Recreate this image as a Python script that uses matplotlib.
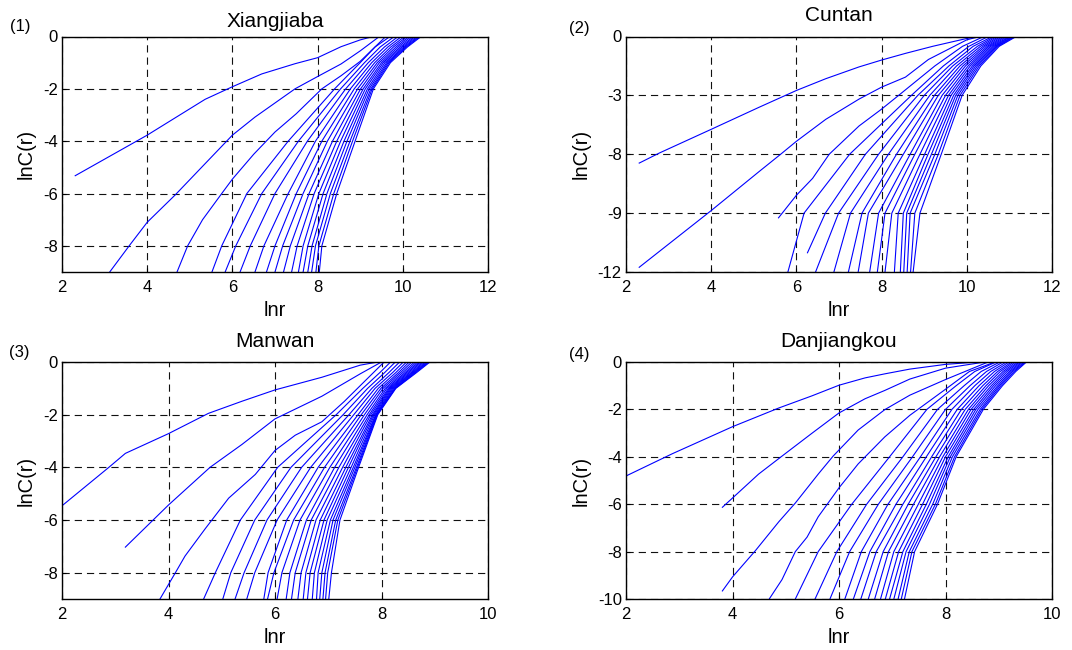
import matplotlib
matplotlib.use("Agg")
import matplotlib.pyplot as plt

plt.rcParams['font.family'] = ['Liberation Sans', 'DejaVu Sans']

BLUE = '#0000ff'
LW = 0.8

# ---------------- Xiangjiaba ----------------
xj_m1_x = [2.31, 4.00, 5.36, 6.00, 6.69, 7.47, 8.00, 8.55, 9.00, 9.30]
xj_m1_y = [-5.32, -3.77, -2.40, -1.92, -1.43, -1.04, -0.81, -0.39, -0.13, 0.0]
xj_m2_x = [3.12, 3.60, 4.00, 4.66, 5.13, 6.00, 6.53, 7.47, 8.00, 8.55, 9.00, 9.45]
xj_m2_y = [-9.0, -7.95, -7.10, -6.05, -5.25, -3.77, -3.08, -2.00, -1.53, -1.05, -0.55, 0.0]
xj_m3_x = [4.70, 4.95, 5.30, 5.75, 6.00, 6.50, 7.00, 7.50, 8.10, 8.55, 9.00, 9.60]
xj_m3_y = [-9.0, -8.00, -7.00, -6.00, -5.45, -4.50, -3.65, -2.95, -2.00, -1.50, -0.95, 0.0]
xj_levels = [-9, -8, -6, -4, -2, -1, -0.4, 0]
xj_cross = [
    [5.52, 5.83, 6.18, 6.53, 6.80, 7.00, 7.20, 7.39, 7.55, 7.66, 7.77, 7.86, 7.96, 8.04],
    [5.75, 6.08, 6.42, 6.74, 7.00, 7.18, 7.36, 7.52, 7.66, 7.77, 7.87, 7.95, 8.03, 8.10],
    [6.34, 6.69, 7.00, 7.31, 7.50, 7.66, 7.80, 7.92, 8.03, 8.13, 8.22, 8.30, 8.38, 8.45],
    [7.31, 7.55, 7.76, 7.95, 8.10, 8.23, 8.35, 8.45, 8.54, 8.62, 8.69, 8.76, 8.82, 8.88],
    [8.40, 8.54, 8.66, 8.77, 8.86, 8.94, 9.01, 9.07, 9.12, 9.17, 9.21, 9.25, 9.28, 9.31],
    [9.00, 9.10, 9.19, 9.27, 9.34, 9.40, 9.45, 9.50, 9.54, 9.58, 9.62, 9.65, 9.68, 9.71],
    [9.35, 9.47, 9.57, 9.65, 9.72, 9.78, 9.84, 9.89, 9.94, 9.98, 10.02, 10.05, 10.08, 10.11],
    [9.70, 9.80, 9.89, 9.97, 10.04, 10.10, 10.15, 10.20, 10.25, 10.29, 10.33, 10.37, 10.40, 10.43],
]
xj_rmax = 10.55

# ---------------- Cuntan ----------------
ct_m1_x = [2.31, 2.78, 4.00, 5.12, 6.00, 6.69, 7.47, 8.00, 8.56, 9.20, 10.00, 10.25]
ct_m1_y = [-6.45, -5.94, -4.73, -3.61, -2.75, -2.15, -1.55, -1.20, -0.86, -0.50, -0.10, 0.0]
ct_m2_x = [2.31, 4.00, 5.12, 5.63, 6.00, 6.69, 7.47, 8.00, 8.56, 9.10, 10.00, 10.30]
ct_m2_y = [-11.76, -8.87, -6.89, -6.00, -5.34, -4.22, -3.19, -2.58, -2.07, -1.17, -0.17, 0.0]
ct_m3_x = [5.58, 6.00, 6.38, 6.77, 7.47, 8.00, 8.40, 9.25, 9.90, 10.40]
ct_m3_y = [-9.24, -8.09, -7.23, -6.00, -4.56, -3.70, -3.00, -1.50, -0.50, 0.0]
ct_m5_x = [6.26, 6.68, 7.62, 8.85, 9.58, 10.15, 10.60]
ct_m5_y = [-11.02, -9.00, -6.00, -3.00, -1.50, -0.50, 0.0]
ct_levels = [-12, -9, -6, -3, -1.5, -0.5, 0]
ct_cross = [
    [5.80, 6.45, 6.88, 7.22, 7.45, 7.72, 7.90, 8.08, 8.30, 8.44, 8.52, 8.60, 8.68, 8.74],
    [6.18, 6.99, 7.27, 7.54, 7.69, 7.93, 8.08, 8.24, 8.39, 8.51, 8.59, 8.67, 8.78, 8.90],
    [7.25, 7.93, 8.16, 8.35, 8.51, 8.67, 8.78, 8.90, 9.01, 9.09, 9.17, 9.25, 9.33, 9.40],
    [8.70, 9.00, 9.13, 9.24, 9.33, 9.42, 9.50, 9.57, 9.63, 9.69, 9.74, 9.79, 9.84, 9.89],
    [9.45, 9.67, 9.76, 9.84, 9.91, 9.97, 10.03, 10.08, 10.13, 10.17, 10.21, 10.25, 10.29, 10.33],
    [10.05, 10.25, 10.32, 10.38, 10.43, 10.48, 10.52, 10.56, 10.60, 10.64, 10.67, 10.70, 10.73, 10.76],
    [10.50, 10.65, 10.70, 10.75, 10.80, 10.85, 10.90, 10.95, 11.00, 11.03, 11.07, 11.10, 11.13, 11.16],
]
ct_rmax = 11.5

# ---------------- Manwan ----------------
mw_m1_x = [2.00, 2.88, 3.19, 4.00, 4.75, 5.38, 6.00, 6.88, 7.60, 7.93]
mw_m1_y = [-5.46, -4.00, -3.47, -2.72, -1.95, -1.49, -1.06, -0.58, -0.12, 0.0]
mw_m2_x = [3.19, 4.00, 4.78, 5.38, 6.00, 6.88, 7.60, 8.00]
mw_m2_y = [-7.03, -5.43, -4.00, -3.13, -2.16, -1.30, -0.45, 0.0]
mw_m3_x = [3.84, 4.13, 4.31, 4.69, 5.13, 5.63, 6.00, 6.38, 6.88, 7.30, 7.75, 8.05]
mw_m3_y = [-9.0, -8.00, -7.37, -6.33, -5.17, -4.27, -3.36, -2.78, -2.27, -1.50, -0.60, 0.0]
mw_levels = [-9, -8, -6, -4, -2, -1, -0.4, 0]
mw_cross = [
    [4.66, 5.02, 5.25, 5.47, 5.79, 5.86, 6.04, 6.21, 6.31, 6.43, 6.53, 6.61, 6.70, 6.78, 6.84, 6.90, 6.95, 7.01],
    [4.88, 5.17, 5.42, 5.62, 5.87, 5.98, 6.13, 6.28, 6.38, 6.49, 6.58, 6.66, 6.74, 6.81, 6.88, 6.94, 6.99, 7.06],
    [5.35, 5.62, 5.85, 6.04, 6.22, 6.35, 6.47, 6.59, 6.68, 6.77, 6.85, 6.92, 6.98, 7.04, 7.09, 7.14, 7.18, 7.22],
    [6.05, 6.30, 6.50, 6.67, 6.81, 6.93, 7.03, 7.12, 7.20, 7.27, 7.33, 7.38, 7.43, 7.47, 7.50, 7.53, 7.55, 7.57],
    [7.15, 7.28, 7.39, 7.48, 7.56, 7.62, 7.68, 7.73, 7.77, 7.80, 7.83, 7.85, 7.87, 7.89, 7.90, 7.91, 7.92, 7.93],
    [7.65, 7.74, 7.82, 7.88, 7.94, 7.99, 8.03, 8.07, 8.10, 8.13, 8.15, 8.17, 8.19, 8.21, 8.23, 8.25, 8.26, 8.27],
    [7.97, 8.06, 8.14, 8.21, 8.27, 8.32, 8.36, 8.40, 8.44, 8.47, 8.50, 8.53, 8.56, 8.58, 8.60, 8.62, 8.64, 8.66],
    [8.17, 8.26, 8.34, 8.41, 8.47, 8.52, 8.57, 8.62, 8.66, 8.70, 8.73, 8.76, 8.79, 8.82, 8.85, 8.87, 8.89, 8.91],
]
mw_rmax = 9.14

# ---------------- Danjiangkou ----------------
dj_m1_x = [2.00, 2.87, 4.00, 4.87, 5.49, 6.00, 6.49, 6.86, 7.33, 8.00, 8.60]
dj_m1_y = [-4.81, -3.87, -2.73, -1.94, -1.43, -0.98, -0.67, -0.50, -0.30, -0.10, 0.0]
dj_m2_x = [3.81, 4.00, 4.49, 4.93, 5.49, 6.00, 6.49, 6.86, 7.33, 8.00, 8.74]
dj_m2_y = [-6.13, -5.74, -4.73, -3.97, -3.01, -2.15, -1.55, -1.20, -0.72, -0.26, 0.0]
dj_m3_x = [3.81, 4.00, 4.43, 4.87, 5.18, 5.61, 5.89, 6.36, 6.86, 7.33, 8.00, 8.80]
dj_m3_y = [-9.66, -9.07, -7.96, -6.74, -5.95, -4.73, -3.97, -2.87, -2.01, -1.40, -0.74, 0.0]
dj_m4_x = [4.69, 4.93, 5.18, 5.40, 5.61, 6.00, 6.36, 6.86, 7.33, 8.00, 8.45, 8.93]
dj_m4_y = [-10.0, -9.18, -8.00, -7.39, -6.53, -5.31, -4.30, -3.16, -2.25, -1.15, -0.40, 0.0]
dj_levels = [-10, -8, -6, -4, -2, -1, -0.4, 0]
dj_cross = [
    [5.18, 5.55, 5.83, 6.11, 6.27, 6.41, 6.55, 6.67, 6.78, 6.87, 6.95, 7.03, 7.11, 7.17, 7.23],
    [5.61, 5.96, 6.20, 6.42, 6.58, 6.70, 6.83, 6.93, 7.03, 7.12, 7.20, 7.26, 7.32, 7.37, 7.42],
    [6.24, 6.52, 6.74, 6.92, 7.07, 7.20, 7.30, 7.40, 7.49, 7.57, 7.64, 7.70, 7.76, 7.81, 7.85],
    [6.95, 7.20, 7.38, 7.53, 7.64, 7.74, 7.82, 7.89, 7.95, 8.00, 8.05, 8.09, 8.13, 8.17, 8.20],
    [7.65, 7.85, 8.00, 8.12, 8.22, 8.30, 8.37, 8.43, 8.48, 8.53, 8.57, 8.61, 8.65, 8.68, 8.71],
    [8.20, 8.35, 8.46, 8.55, 8.63, 8.70, 8.76, 8.81, 8.86, 8.90, 8.94, 8.98, 9.01, 9.04, 9.07],
    [8.55, 8.67, 8.77, 8.85, 8.92, 8.98, 9.03, 9.08, 9.12, 9.16, 9.20, 9.23, 9.26, 9.29, 9.32],
    [8.95, 9.02, 9.08, 9.14, 9.19, 9.24, 9.28, 9.32, 9.36, 9.39, 9.42, 9.45, 9.48, 9.50, 9.52],
]
dj_rmax = 9.76


def draw_curves(ax, singles, levels, cross, rmax):
    """Each curve runs up to lnC = 0 and then stays flat out to r_max."""
    for xs, ys in singles:
        ax.plot(list(xs) + [rmax], list(ys) + [0.0], color=BLUE, lw=LW)
    for j in range(len(cross[0])):
        xs = [row[j] for row in cross]
        ax.plot(xs + [rmax], list(levels) + [0.0], color=BLUE, lw=LW)


def style_axes(ax, title, xlim, xticks, ylim, yticks, yticklabels, title_pad):
    ax.set_xlim(*xlim)
    ax.set_ylim(*ylim)
    ax.set_xticks(xticks)
    ax.set_yticks(yticks)
    ax.set_yticklabels(yticklabels)
    ax.set_title(title, fontsize=15, pad=title_pad)
    ax.set_xlabel('lnr', fontsize=14.5, labelpad=4)
    ax.set_ylabel('lnC(r)', fontsize=14.5, labelpad=5)
    ax.tick_params(direction='in', length=3, labelsize=12, width=0.8)
    ax.tick_params(axis='x', pad=6)
    ax.tick_params(axis='y', pad=3)
    ax.grid(True, color='#111111', linestyle=(0, (6.5, 4.5)), linewidth=0.8)
    for s in ax.spines.values():
        s.set_linewidth(1.0)
        s.set_color('black')


fig = plt.figure(figsize=(10.72, 6.5), dpi=100)
W, H = 1072.0, 650.0


def add_axes_px(left, top, right, bottom):
    return fig.add_axes([left / W, 1 - bottom / H, (right - left) / W, (bottom - top) / H])


ax1 = add_axes_px(62, 36.5, 488, 272)
ax2 = add_axes_px(626, 36.5, 1052, 272)
ax3 = add_axes_px(62, 362, 488, 599)
ax4 = add_axes_px(626, 362, 1052, 599)

draw_curves(ax1, [(xj_m1_x, xj_m1_y), (xj_m2_x, xj_m2_y), (xj_m3_x, xj_m3_y)],
            xj_levels, xj_cross, xj_rmax)
style_axes(ax1, 'Xiangjiaba', (2, 12), [2, 4, 6, 8, 10, 12], (-9, 0),
           [-8, -6, -4, -2, 0], ['-8', '-6', '-4', '-2', '0'], 7)

draw_curves(ax2, [(ct_m1_x, ct_m1_y), (ct_m2_x, ct_m2_y), (ct_m3_x, ct_m3_y), (ct_m5_x, ct_m5_y)],
            ct_levels, ct_cross, ct_rmax)
style_axes(ax2, 'Cuntan', (2, 12), [2, 4, 6, 8, 10, 12], (-12, 0),
           [-12, -9, -6, -3, 0], ['-12', '-9', '-8', '-3', '0'], 11)

draw_curves(ax3, [(mw_m1_x, mw_m1_y), (mw_m2_x, mw_m2_y), (mw_m3_x, mw_m3_y)],
            mw_levels, mw_cross, mw_rmax)
style_axes(ax3, 'Manwan', (2, 10), [2, 4, 6, 8, 10], (-9, 0),
           [-8, -6, -4, -2, 0], ['-8', '-6', '-4', '-2', '0'], 10.5)

draw_curves(ax4, [(dj_m1_x, dj_m1_y), (dj_m2_x, dj_m2_y), (dj_m3_x, dj_m3_y), (dj_m4_x, dj_m4_y)],
            dj_levels, dj_cross, dj_rmax)
style_axes(ax4, 'Danjiangkou', (2, 10), [2, 4, 6, 8, 10], (-10, 0),
           [-10, -8, -6, -4, -2, 0], ['-10', '-8', '-6', '-4', '-2', '0'], 10.5)

# panel numbers
for label, px, py in [('(1)', 20, 27), ('(2)', 579, 29), ('(3)', 19, 352), ('(4)', 579, 354)]:
    fig.text(px / W, 1 - py / H, label, fontsize=12, ha='center', va='center')

fig.savefig('out.png', dpi=100)
